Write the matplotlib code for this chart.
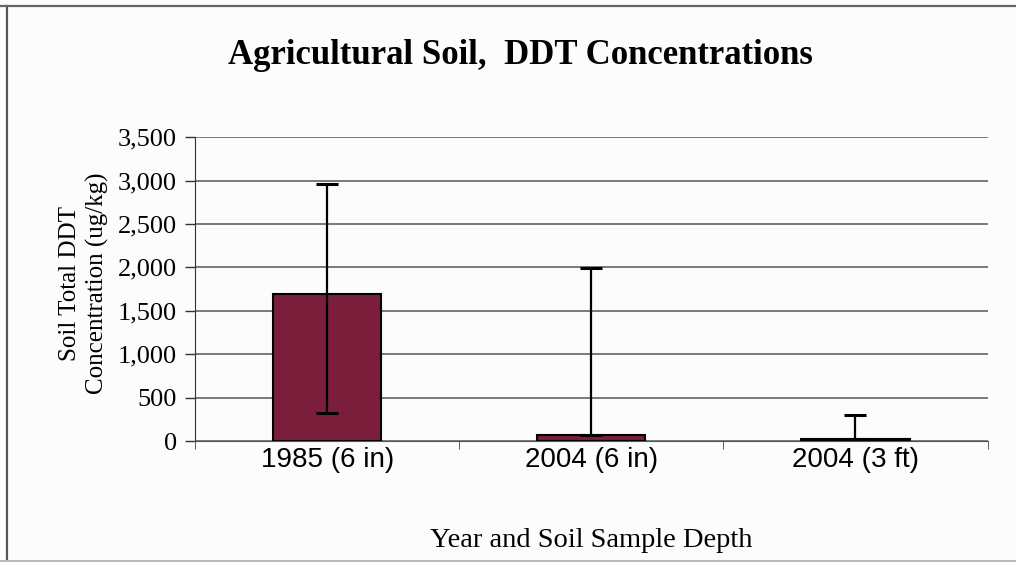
import matplotlib
matplotlib.use("Agg")
import matplotlib.pyplot as plt
from matplotlib.lines import Line2D

# values
categories = ["1985 (6 in)", "2004 (6 in)", "2004 (3 ft)"]
means = [1690, 75, 25]
err_low = [1370, 0, 0]
err_high = [1275, 1915, 280]

serif = "Liberation Serif"
sans = "Liberation Sans"

fig = plt.figure(figsize=(10.16, 5.62), dpi=100, facecolor="#fcfcfc")
# page frame (left and top edges drawn, bottom faint)
fig.add_artist(Line2D([0.007, 0.007], [0.0, 0.99], transform=fig.transFigure, color="#555555", lw=1.6))
fig.add_artist(Line2D([0.0, 1.0], [0.99, 0.99], transform=fig.transFigure, color="#666666", lw=1.6))
fig.add_artist(Line2D([0.0, 1.0], [0.002, 0.002], transform=fig.transFigure, color="#bbbbbb", lw=1.5))

ax = fig.add_axes([0.192, 0.215, 0.780, 0.541])
ax.set_facecolor("#fcfcfc")

x = range(len(categories))
ax.bar(x, means, width=0.41, color="#7a1e3c", edgecolor="black", linewidth=1.5, zorder=3)
ax.errorbar(x, means, yerr=[err_low, err_high], fmt="none", ecolor="black",
            elinewidth=1.6, capsize=8, capthick=2.2, zorder=4)

ax.set_xlim(-0.5, 2.5)
ax.set_ylim(0, 3500)
ax.set_yticks(range(0, 3501, 500))
ax.set_yticklabels([f"{v:,}" for v in range(0, 3501, 500)], fontfamily=serif, fontsize=19)
ax.yaxis.grid(True, color="#555555", linewidth=1.1, zorder=0)

ax.set_xticks(x)
ax.set_xticklabels(categories, fontfamily=sans, fontsize=20)
ax.tick_params(axis="x", length=0, pad=4)
ax.set_xticks([-0.5, 0.5, 1.5, 2.5], minor=True)
ax.tick_params(axis="x", which="minor", length=6, color="#444444")
ax.tick_params(axis="y", length=7, width=1, color="#333333", pad=6)

for s in ["top", "right"]:
    ax.spines[s].set_visible(False)
ax.spines["left"].set_color("#333333")
ax.spines["bottom"].set_color("#555555")

ax.set_xlabel("Year and Soil Sample Depth", fontfamily=serif, fontsize=20.5, labelpad=40)
ax.set_ylabel("Soil Total DDT\nConcentration (ug/kg)", fontfamily=serif, fontsize=18,
              linespacing=1.3)
ax.yaxis.set_label_coords(-0.108, 0.52)
fig.text(0.512, 0.902, "Agricultural Soil,  DDT Concentrations", ha="center", va="center",
         fontfamily=serif, fontweight="bold", fontsize=25)

fig.savefig("out.png", dpi=100, facecolor=fig.get_facecolor())
